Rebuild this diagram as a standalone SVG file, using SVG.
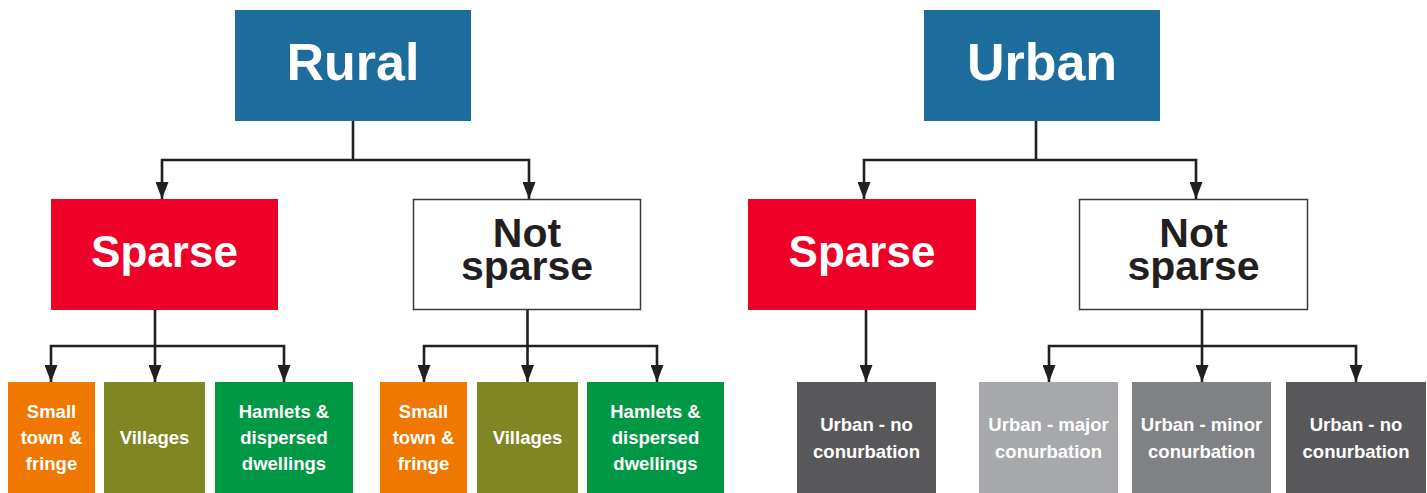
<svg xmlns="http://www.w3.org/2000/svg" width="1427" height="493" viewBox="0 0 1427 493">
<defs>
<marker id="arr" markerUnits="userSpaceOnUse" viewBox="0 0 17 13" markerWidth="17" markerHeight="13" refX="17" refY="6.5" orient="auto">
<path d="M0,0 L17,6.5 L0,13 z" fill="#231f20"/>
</marker>
<style>
.conn path{fill:none;stroke:#231f20;stroke-width:2.6}
text{font-family:"Liberation Sans",Arial,sans-serif;font-weight:bold;text-anchor:middle}
.top{font-size:52px;fill:#fff}
.sp{font-size:44px;fill:#fff}
.ns{font-size:41px;fill:#231f20}
.lf{font-size:18.5px;fill:#fff}
.blue{fill:#1c6d9b}
.red{fill:#ee0028}
.white{fill:#fff;stroke:#3a3a3a;stroke-width:1.5}
.orange{fill:#f07800}
.olive{fill:#808623}
.green{fill:#009845}
.dg{fill:#58585a}
.lg{fill:#a7a8ab}
.mg{fill:#808184}
</style>
</defs>
<rect width="1427" height="493" fill="#fff"/>
<g class="conn">
<path d="M353,121 V160"/>
<path d="M353,160 H162 V199" marker-end="url(#arr)"/>
<path d="M353,160 H529 V199" marker-end="url(#arr)"/>
<path d="M155,310 V382" marker-end="url(#arr)"/>
<path d="M155,346 H51 V382" marker-end="url(#arr)"/>
<path d="M155,346 H284 V382" marker-end="url(#arr)"/>
<path d="M527.5,310 V382" marker-end="url(#arr)"/>
<path d="M527.5,346 H424 V382" marker-end="url(#arr)"/>
<path d="M527.5,346 H657 V382" marker-end="url(#arr)"/>
<path d="M1036,121 V160"/>
<path d="M1036,160 H864 V199" marker-end="url(#arr)"/>
<path d="M1036,160 H1196 V199" marker-end="url(#arr)"/>
<path d="M866,310 V382" marker-end="url(#arr)"/>
<path d="M1202,310 V382" marker-end="url(#arr)"/>
<path d="M1202,346 H1049 V382" marker-end="url(#arr)"/>
<path d="M1202,346 H1356 V382" marker-end="url(#arr)"/>
</g>
<g id="rural"><rect class="blue" x="235" y="10" width="236" height="111"/><text class="top" x="353" y="80">Rural</text></g>
<g id="urban"><rect class="blue" x="924" y="10" width="236" height="111"/><text class="top" x="1042" y="80">Urban</text></g>
<g id="rural-sparse"><rect class="red" x="51" y="199" width="227" height="111"/><text class="sp" x="164.5" y="267">Sparse</text></g>
<g id="rural-notsparse"><rect class="white" x="413.5" y="199.5" width="227" height="110"/><text class="ns"><tspan x="527" y="247">Not</tspan><tspan x="527" y="280">sparse</tspan></text></g>
<g id="urban-sparse"><rect class="red" x="748" y="199" width="228" height="111"/><text class="sp" x="862" y="267">Sparse</text></g>
<g id="urban-notsparse"><rect class="white" x="1079.5" y="199.5" width="228" height="110"/><text class="ns"><tspan x="1193.5" y="247">Not</tspan><tspan x="1193.5" y="280">sparse</tspan></text></g>
<g id="rs-town"><rect class="orange" x="8" y="382" width="87" height="111"/><text class="lf" x="51.5" y="418">Small</text><text class="lf" x="51.5" y="444">town &amp;</text><text class="lf" x="51.5" y="470">fringe</text></g>
<g id="rs-villages"><rect class="olive" x="104" y="382" width="101" height="111"/><text class="lf" x="154.5" y="444">Villages</text></g>
<g id="rs-hamlets"><rect class="green" x="215" y="382" width="138" height="111"/><text class="lf" x="284" y="418">Hamlets &amp;</text><text class="lf" x="284" y="444">dispersed</text><text class="lf" x="284" y="470">dwellings</text></g>
<g id="rn-town"><rect class="orange" x="380" y="382" width="87" height="111"/><text class="lf" x="423.5" y="418">Small</text><text class="lf" x="423.5" y="444">town &amp;</text><text class="lf" x="423.5" y="470">fringe</text></g>
<g id="rn-villages"><rect class="olive" x="477" y="382" width="101" height="111"/><text class="lf" x="527.5" y="444">Villages</text></g>
<g id="rn-hamlets"><rect class="green" x="587" y="382" width="137" height="111"/><text class="lf" x="655.5" y="418">Hamlets &amp;</text><text class="lf" x="655.5" y="444">dispersed</text><text class="lf" x="655.5" y="470">dwellings</text></g>
<g id="us-noconurb"><rect class="dg" x="797" y="382" width="139" height="111"/><text class="lf" x="866.5" y="431">Urban - no</text><text class="lf" x="866.5" y="458">conurbation</text></g>
<g id="un-major"><rect class="lg" x="979" y="382" width="139" height="111"/><text class="lf" x="1048.5" y="431">Urban - major</text><text class="lf" x="1048.5" y="458">conurbation</text></g>
<g id="un-minor"><rect class="mg" x="1132" y="382" width="139" height="111"/><text class="lf" x="1201.5" y="431">Urban - minor</text><text class="lf" x="1201.5" y="458">conurbation</text></g>
<g id="un-noconurb"><rect class="dg" x="1286" y="382" width="140" height="111"/><text class="lf" x="1356" y="431">Urban - no</text><text class="lf" x="1356" y="458">conurbation</text></g>
</svg>
